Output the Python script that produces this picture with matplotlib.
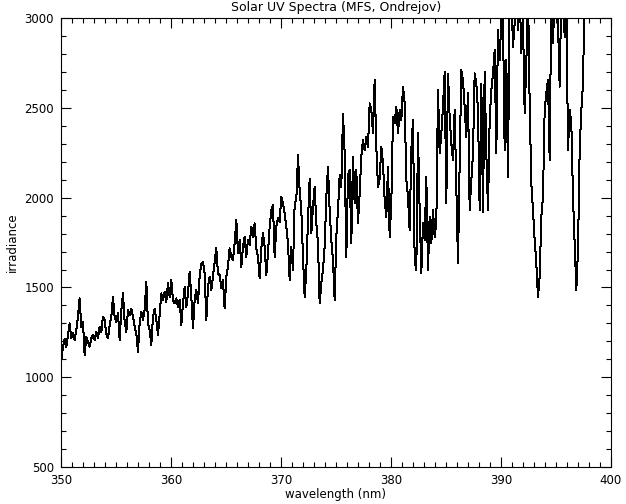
import numpy as np
import matplotlib.pyplot as plt
from matplotlib.ticker import MultipleLocator

wl_start = 350.03
wl_step = 0.15152

irr_350_360 = [1096, 1170, 1216, 1170, 1235, 1300, 1216, 1244, 1207, 1263,
               1337, 1439, 1281, 1309, 1124, 1226, 1198, 1170, 1216, 1235,
               1207, 1253, 1216, 1281, 1253, 1337, 1318, 1244, 1216, 1291,
               1337, 1448, 1337, 1309, 1356, 1207, 1374, 1467, 1309, 1253,
               1374, 1346, 1383, 1337, 1281, 1244, 1142, 1300, 1365, 1318,
               1374, 1532, 1300, 1263, 1179, 1337, 1383, 1318, 1235, 1346,
               1467, 1430, 1476, 1420, 1523, 1448, 1541, 1430]
irr_360_370 = [1411, 1439, 1393, 1430, 1291, 1411, 1504, 1393, 1467, 1588,
               1448, 1272, 1430, 1486, 1411, 1560, 1634, 1643, 1578, 1318,
               1504, 1560, 1486, 1560, 1643, 1718, 1578, 1569, 1495, 1541,
               1383, 1560, 1615, 1718, 1671, 1653, 1745, 1875, 1690, 1764,
               1615, 1727, 1782, 1671, 1764, 1736, 1838, 1782, 1857, 1718,
               1671, 1550, 1718, 1801, 1727, 1569, 1690, 1838, 1931, 1959,
               1671, 1838, 1885, 1866, 2005, 1968]
irr_370_380 = [1912, 1838, 1745, 1541, 1727, 1597, 1968, 1987, 2237, 2042,
               1931, 1671, 1448, 1597, 1875, 2107, 1801, 1949, 2061, 1857,
               1745, 1411, 1523, 1597, 1727, 2005, 2172, 1931, 1764, 1653,
               1430, 1782, 1931, 2126, 2061, 2469, 2247, 1671, 2126, 2154,
               1745, 2228, 1968, 2154, 1857, 2024, 2228, 2321, 2265, 2339,
               2283, 2525, 2488, 2358, 2655, 2283, 2061, 2107, 2283, 2191,
               1987, 1894, 2172, 1782, 1968, 2450]
irr_380_390 = [2414, 2506, 2358, 2488, 2432, 2618, 2525, 2098, 2005, 1820,
               2265, 2432, 1653, 1597, 2358, 1931, 1578, 1857, 1764, 2117,
               1597, 1894, 1745, 1931, 1782, 1857, 2599, 2247, 2358, 2506,
               2701, 1968, 2692, 2450, 2302, 2209, 2488, 2061, 1634, 2191,
               2710, 2655, 2506, 2339, 2581, 1931, 2098, 2247, 2692, 2636,
               2488, 1931, 2636, 1922, 2701, 2247, 1931, 2432, 2599, 2692,
               2822, 2247, 2933, 2766, 2989, 2989]
irr_390_400 = [2265, 2766, 2117, 3150, 3150, 2840, 2970, 3150, 2933, 3150,
               2803, 2989, 2469, 2748, 3150, 2525, 2080, 1931, 1764, 1634,
               1448, 1560, 1894, 2005, 2488, 2581, 2655, 2209, 3150, 2859,
               3150, 3150, 2970, 2618, 3150, 3150, 2896, 3150, 2265, 2488,
               2414, 2005, 1745, 1486, 1708, 2265, 2488, 2636, 3150, 3150,
               3200]

irradiance = np.array(irr_350_360 + irr_360_370 + irr_370_380 + irr_380_390 + irr_390_400)
wavelength = wl_start + wl_step * np.arange(len(irradiance))

plt.rcParams['font.family'] = 'DejaVu Sans'
fig = plt.figure(figsize=(6.26, 5.04), dpi=100)
ax = fig.add_axes([0.0974, 0.0734, 0.8786, 0.8906])

ax.plot(wavelength, irradiance, color='black', linewidth=0.72, antialiased=False)

ax.set_xlim(350, 400)
ax.set_ylim(500, 3000)
ax.xaxis.set_major_locator(MultipleLocator(10))
ax.xaxis.set_minor_locator(MultipleLocator(1))
ax.yaxis.set_major_locator(MultipleLocator(500))
ax.yaxis.set_minor_locator(MultipleLocator(100))
ax.tick_params(which='both', direction='in', top=True, right=True,
               width=0.8, labelsize=8.5, pad=5)
ax.tick_params(which='major', length=7)
ax.tick_params(which='minor', length=3.5)
for s in ax.spines.values():
    s.set_linewidth(0.8)

ax.set_title('Solar UV Spectra (MFS, Ondrejov)', fontsize=9, pad=5)
ax.set_xlabel('wavelength (nm)', fontsize=8.5, labelpad=1)
ax.set_ylabel('irradiance', fontsize=8.5, labelpad=4)

fig.savefig('out.png', dpi=100)
